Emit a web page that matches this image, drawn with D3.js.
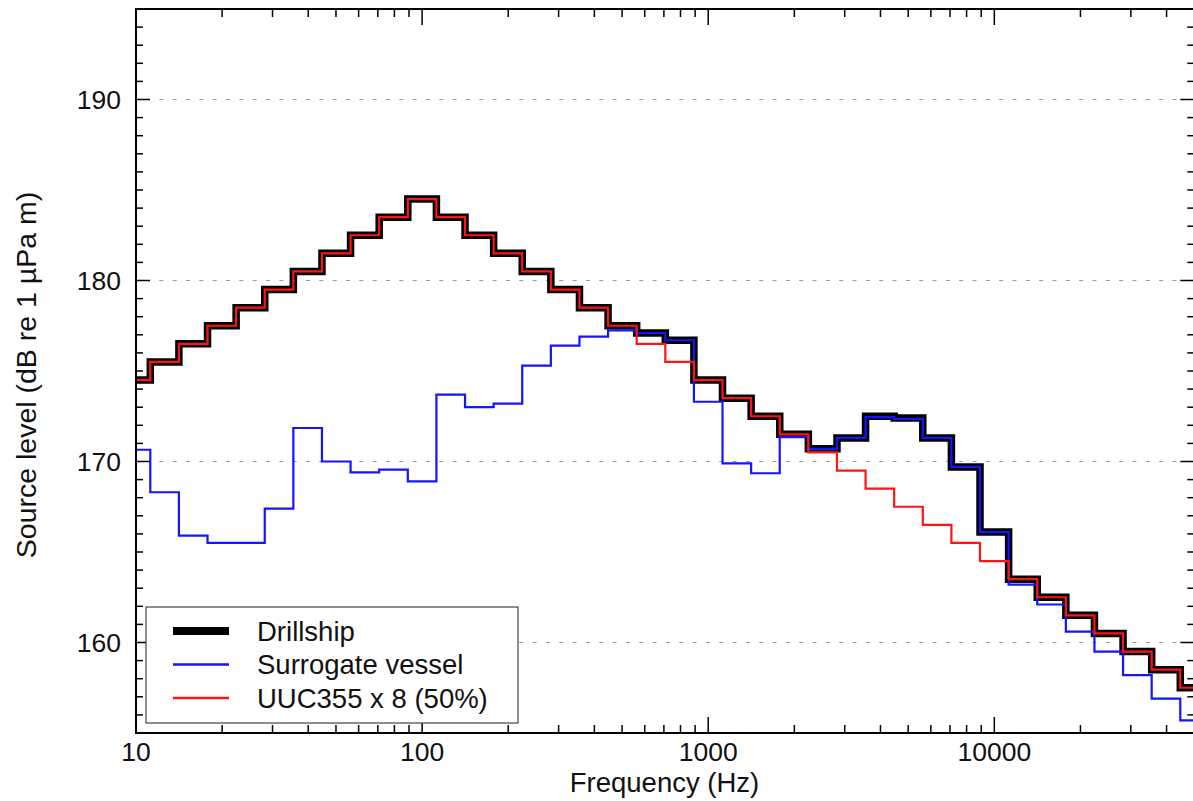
<!DOCTYPE html>
<html>
<head>
<meta charset="utf-8">
<script src="https://cdn.jsdelivr.net/npm/d3@7"></script>
<style>
  html, body { margin: 0; padding: 0; background: #fff; }
  svg { display: block; font-family: "Liberation Sans", Arial, Helvetica, sans-serif; }
</style>
</head>
<body>
<svg id="chart" width="1193" height="801"></svg>
<script>
// One-third-octave band centre frequencies (Hz)
const bandCentres = [10, 12.5, 16, 20, 25, 31.5, 40, 50, 63, 80, 100, 125, 160, 200, 250, 315,
  400, 500, 630, 800, 1000, 1250, 1600, 2000, 2500, 3150, 4000, 5000, 6300, 8000, 10000,
  12500, 16000, 20000, 25000, 31500, 40000, 50000];

// Band source levels, dB re 1 µPa m
const drillship = [174.5, 175.5, 176.5, 177.5, 178.5, 179.5, 180.5, 181.5, 182.5, 183.5, 184.5,
  183.5, 182.5, 181.5, 180.5, 179.5, 178.5, 177.5, 177.1, 176.7, 174.5, 173.5, 172.5, 171.5,
  170.7, 171.3, 172.5, 172.4, 171.3, 169.7, 166.1, 163.5, 162.5, 161.5, 160.5, 159.5, 158.5, 157.5];

const surrogate = [170.65, 168.3, 165.9, 165.5, 165.5, 167.4, 171.85, 170.0, 169.4, 169.55, 168.9,
  173.7, 173.0, 173.2, 175.3, 176.4, 176.9, 177.25, 177.1, 176.7, 173.3, 169.9, 169.35, 171.35,
  170.7, 171.3, 172.45, 172.35, 171.3, 169.7, 166.1, 163.2, 162.1, 160.6, 159.5, 158.2, 156.9, 155.7];

const uuc = [174.5, 175.5, 176.5, 177.5, 178.5, 179.5, 180.5, 181.5, 182.5, 183.5, 184.5,
  183.5, 182.5, 181.5, 180.5, 179.5, 178.5, 177.5, 176.5, 175.5, 174.5, 173.5, 172.5, 171.5,
  170.5, 169.5, 168.5, 167.5, 166.5, 165.5, 164.5, 163.5, 162.5, 161.5, 160.5, 159.5, 158.5, 157.5];

const xTickValues = [10, 100, 1000, 10000];
const yTickValues = [160, 170, 180, 190];
const legendLabels = ["Drillship", "Surrogate vessel", "UUC355 x 8 (50%)"];

const svg = d3.select("#chart");
const plotLeft = 136, plotRight = 1194.3, plotTop = 9, plotBottom = 733;

const x = d3.scaleLog().domain([10, 50000]).range([plotLeft, plotRight]);
const y = d3.scaleLinear().domain([155, 195]).range([plotBottom, plotTop]);

// Lower/upper band edges from the exact base-10 band number
function bandEdges(fc) {
  const n = Math.round(10 * Math.log10(fc));
  return [Math.pow(10, (n - 0.5) / 10), Math.pow(10, (n + 0.5) / 10)];
}
function stepPoints(values) {
  const pts = bandCentres.map((fc, i) => [bandEdges(fc)[0], values[i]]);
  pts.push([bandEdges(bandCentres[bandCentres.length - 1])[1], values[values.length - 1]]);
  return pts;
}

svg.append("defs").append("clipPath").attr("id", "plot-clip")
  .append("rect").attr("x", plotLeft).attr("y", plotTop)
  .attr("width", plotRight - plotLeft).attr("height", plotBottom - plotTop);

// Horizontal dashed grid
svg.append("g").selectAll("line").data(yTickValues).join("line")
  .attr("x1", plotLeft).attr("x2", plotRight)
  .attr("y1", d => y(d)).attr("y2", d => y(d))
  .attr("stroke", "#9a9a9a").attr("stroke-width", 1.2)
  .attr("stroke-dasharray", "4,9.33").attr("stroke-dashoffset", 3.3);

// Step traces
const line = d3.line().x(d => x(d[0])).y(d => y(d[1])).curve(d3.curveStepAfter);
const traces = svg.append("g").attr("clip-path", "url(#plot-clip)");
traces.append("path").attr("d", line(stepPoints(drillship)))
  .attr("fill", "none").attr("stroke", "#000").attr("stroke-width", 7.5)
  .attr("stroke-linejoin", "miter");
traces.append("path").attr("d", line(stepPoints(surrogate)))
  .attr("fill", "none").attr("stroke", "#1414ff").attr("stroke-width", 2.2);
traces.append("path").attr("d", line(stepPoints(uuc)))
  .attr("fill", "none").attr("stroke", "#ff1414").attr("stroke-width", 2.2);

// Axes with inward ticks on all four sides
const minorX = [];
for (let dec = 10; dec <= 10000; dec *= 10) for (let k = 1; k <= 9; k++) if (dec * k <= 50000) minorX.push(dec * k);
const minorY = d3.range(155, 196, 1);

const axisG = svg.append("g").attr("stroke", "#000");
axisG.append("rect").attr("x", plotLeft).attr("y", plotTop)
  .attr("width", plotRight - plotLeft).attr("height", plotBottom - plotTop)
  .attr("fill", "none").attr("stroke-width", 2);

const isMajorX = v => xTickValues.includes(v);
axisG.selectAll(".xb").data(minorX).join("line")
  .attr("x1", d => x(d)).attr("x2", d => x(d))
  .attr("y1", plotBottom).attr("y2", d => plotBottom - (isMajorX(d) ? 16 : 8)).attr("stroke-width", 1.5);
axisG.selectAll(".xt").data(minorX).join("line")
  .attr("x1", d => x(d)).attr("x2", d => x(d))
  .attr("y1", plotTop).attr("y2", d => plotTop + (isMajorX(d) ? 16 : 8)).attr("stroke-width", 1.5);

const isMajorY = v => v % 10 === 0;
axisG.selectAll(".yl").data(minorY).join("line")
  .attr("y1", d => y(d)).attr("y2", d => y(d))
  .attr("x1", plotLeft).attr("x2", d => plotLeft + (isMajorY(d) ? 14 : 7)).attr("stroke-width", 1.5);
axisG.selectAll(".yr").data(minorY).join("line")
  .attr("y1", d => y(d)).attr("y2", d => y(d))
  .attr("x1", plotRight).attr("x2", d => plotRight - (isMajorY(d) ? 14 : 7)).attr("stroke-width", 1.5);

// Tick labels
svg.append("g").selectAll("text").data(xTickValues).join("text")
  .attr("x", d => x(d)).attr("y", 761).attr("text-anchor", "middle")
  .attr("font-size", 26.5).attr("fill", "#111").text(d => d);
svg.append("g").selectAll("text").data(yTickValues).join("text")
  .attr("x", 121).attr("y", d => y(d) + 9.5).attr("text-anchor", "end")
  .attr("font-size", 26.5).attr("fill", "#111").text(d => d);

// Axis titles
svg.append("text").attr("x", (plotLeft + 1193) / 2).attr("y", 792).attr("text-anchor", "middle")
  .attr("font-size", 27.5).attr("fill", "#111").text("Frequency (Hz)");
svg.append("text").attr("transform", "translate(36,375) rotate(-90)").attr("text-anchor", "middle")
  .attr("font-size", 28.5).attr("fill", "#111").text("Source level (dB re 1 \u00b5Pa m)");

// Legend
const legend = svg.append("g");
legend.append("rect").attr("x", 146).attr("y", 607).attr("width", 372).attr("height", 116)
  .attr("fill", "#fff").attr("stroke", "#444").attr("stroke-width", 1.2);
const legendStyles = [
  { color: "#000", width: 8 },
  { color: "#1414ff", width: 2.5 },
  { color: "#ff1414", width: 2.5 }
];
const rowY = [631, 664.5, 698];
legendLabels.forEach((label, i) => {
  legend.append("line").attr("x1", 173).attr("x2", 229).attr("y1", rowY[i]).attr("y2", rowY[i])
    .attr("stroke", legendStyles[i].color).attr("stroke-width", legendStyles[i].width);
  legend.append("text").attr("x", 257).attr("y", rowY[i] + 9.5)
    .attr("font-size", 27.5).attr("fill", "#111").text(label);
});
</script>
</body>
</html>
